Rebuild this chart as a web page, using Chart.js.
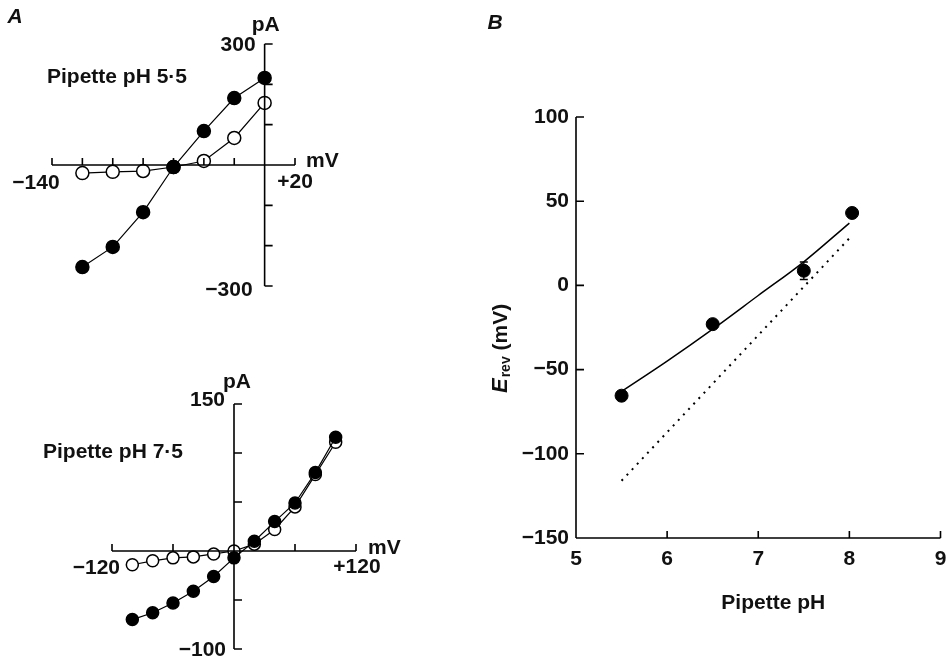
<!DOCTYPE html>
<html lang="en">
<head>
<meta charset="UTF-8">
<title>Pipette pH and reversal potential</title>
<style>
  body { margin: 0; background: #fff; }
  #wrap { position: relative; width: 948px; height: 658px; }
  #wrap canvas { position: absolute; left: 0; top: 0; }
</style>
</head>
<body>
<div id="wrap">
  <canvas id="ivTop" width="948" height="658"></canvas>
  <canvas id="ivBottom" width="948" height="658"></canvas>
  <canvas id="erevChart" width="948" height="658"></canvas>
</div>
<script src="https://cdn.jsdelivr.net/npm/chart.js"></script>
<script>
// ---- data ----
// A, pipette pH 5.5 (mV / pA)
const topVoltage = [-120, -100, -80, -60, -40, -20, 0];
const topFilled = [-253, -203, -117, -5, 84, 166, 216];
const topOpen = [-20, -17, -15, -5, 10, 67, 154];
const topXTicks = [-140, -120, -100, -80, -60, -40, -20, 0, 20];
const topYTicks = [-300, -200, -100, 0, 100, 200, 300];

// A, pipette pH 7.5
const botVoltage = [-100, -80, -60, -40, -20, 0, 20, 40, 60, 80, 100];
const botFilled = [-70, -63, -53, -41, -26, -7, 10, 30, 49, 80, 116];
const botOpen = [-14, -10, -7, -6, -3, 0, 7, 22, 45, 78, 111];
const botXTicks = [-120, -60, 0, 60, 120];
const botYTicks = [-100, -50, 0, 50, 100, 150];

// B, reversal potential vs pipette pH
const pipettePH = [5.5, 6.5, 7.5, 8.03];
const erev = [-65.5, -23, 8.7, 43];
const erevErr = [0, 0, 5.2, 0];
const fitPH = [5.5, 6, 6.5, 7, 7.5, 8];
const fitErev = [-63, -45, -26, -6, 14, 37];
const nernstPH = [5.5, 8.0];
const nernstErev = [-116, 28];
const bXTicks = [5, 6, 7, 8, 9];
const bYTicks = [-150, -100, -50, 0, 50, 100];

const FAM = '"Liberation Sans", Arial, sans-serif';
const BOLD = 'bold 21px ' + FAM;
const ITAL = 'italic bold 21px ' + FAM;
const MINUS = '\u2212';
const fmt = v => (v < 0 ? MINUS + Math.abs(v) : String(v));
const pts = (xs, ys) => xs.map((x, i) => ({x: x, y: ys[i]}));

// axes drawn at data positions, ticks pointing inwards
function axesFrame(cfg) {
  return {
    id: 'axesFrame',
    afterDraw(chart) {
      const ctx = chart.ctx;
      const px = v => chart.scales.x.getPixelForValue(v);
      const py = v => chart.scales.y.getPixelForValue(v);
      ctx.save();
      ctx.strokeStyle = '#000';
      ctx.lineWidth = 1.6;
      ctx.beginPath();
      const xa = cfg.xAxis, ay = py(xa.at);
      ctx.moveTo(px(xa.from), ay);
      ctx.lineTo(px(xa.to), ay);
      xa.ticks.forEach(t => { ctx.moveTo(px(t), ay); ctx.lineTo(px(t), ay - 7); });
      const ya = cfg.yAxis, ax = px(ya.at);
      ctx.moveTo(ax, py(ya.from));
      ctx.lineTo(ax, py(ya.to));
      ya.ticks.forEach(t => { ctx.moveTo(ax, py(t)); ctx.lineTo(ax + 8, py(t)); });
      ctx.stroke();

      // error bars
      (cfg.errors || []).forEach(e => {
        e.err.forEach((d, i) => {
          if (!d) return;
          const x = px(e.x[i]);
          ctx.beginPath();
          ctx.lineWidth = 1.3;
          ctx.moveTo(x, py(e.y[i] - d)); ctx.lineTo(x, py(e.y[i] + d));
          ctx.moveTo(x - 4, py(e.y[i] - d)); ctx.lineTo(x + 4, py(e.y[i] - d));
          ctx.moveTo(x - 4, py(e.y[i] + d)); ctx.lineTo(x + 4, py(e.y[i] + d));
          ctx.stroke();
        });
      });

      ctx.fillStyle = '#111';
      ctx.textBaseline = 'middle';
      cfg.labels.forEach(l => {
        ctx.font = l.font || BOLD;
        ctx.textAlign = l.align || 'center';
        ctx.fillText(l.text, px(l.x) + (l.dx || 0), py(l.y) + (l.dy || 0));
      });
      if (cfg.after) cfg.after(ctx, px, py);
      ctx.restore();
    }
  };
}

function makeChart(id, pad, xr, yr, datasets, frame) {
  return new Chart(document.getElementById(id), {
    type: 'scatter',
    data: { datasets: datasets },
    options: {
      responsive: false,
      animation: false,
      devicePixelRatio: 1,
      layout: { padding: pad },
      scales: {
        x: { type: 'linear', min: xr[0], max: xr[1], display: false },
        y: { type: 'linear', min: yr[0], max: yr[1], display: false }
      },
      plugins: { legend: { display: false }, tooltip: { enabled: false } }
    },
    plugins: [axesFrame(frame)]
  });
}

function ivSet(xs, ys, filled, r) {
  return {
    data: pts(xs, ys),
    showLine: true,
    borderColor: '#000',
    borderWidth: 1.2,
    pointRadius: r,
    pointBackgroundColor: filled ? '#000' : '#fff',
    pointBorderColor: '#000',
    pointBorderWidth: 1.5,
    clip: false
  };
}

// ---- A, pH 5.5 ----
makeChart('ivTop', {left: 52, right: 653, top: 44, bottom: 372}, [-140, 20], [-300, 300],
  [ivSet(topVoltage, topFilled, true, 6.5), ivSet(topVoltage, topOpen, false, 6.5)],
  {
    xAxis: {at: 0, from: -140, to: 20, ticks: topXTicks},
    yAxis: {at: 0, from: -300, to: 300, ticks: topYTicks},
    labels: [
      {text: 'A', x: -140, y: 300, dx: -37, dy: -27, font: ITAL},
      {text: 'pA', x: 0, y: 300, dx: 1, dy: -19},
      {text: '300', x: 0, y: 300, dx: -9, dy: 1, align: 'right'},
      {text: fmt(-300), x: 0, y: -300, dx: -12, dy: 4, align: 'right'},
      {text: fmt(-140), x: -140, y: 0, dx: -16, dy: 18},
      {text: '+20', x: 20, y: 0, dx: 0, dy: 17},
      {text: 'mV', x: 20, y: 0, dx: 11, dy: -4, align: 'left'},
      {text: 'Pipette pH 5\u00b75', x: -140, y: 300, dx: -5, dy: 33, align: 'left'}
    ]
  });

// ---- A, pH 7.5 ----
makeChart('ivBottom', {left: 112, right: 592, top: 404, bottom: 9}, [-120, 120], [-100, 150],
  [ivSet(botVoltage, botFilled, true, 6), ivSet(botVoltage, botOpen, false, 6)],
  {
    xAxis: {at: 0, from: -120, to: 120, ticks: botXTicks},
    yAxis: {at: 0, from: -100, to: 150, ticks: botYTicks},
    labels: [
      {text: 'pA', x: 0, y: 150, dx: 3, dy: -22},
      {text: '150', x: 0, y: 150, dx: -9, dy: -4, align: 'right'},
      {text: fmt(-100), x: 0, y: -100, dx: -8, dy: 1, align: 'right'},
      {text: fmt(-120), x: -120, y: 0, dx: 8, dy: 17, align: 'right'},
      {text: '+120', x: 120, y: 0, dx: 1, dy: 16},
      {text: 'mV', x: 120, y: 0, dx: 12, dy: -3, align: 'left'},
      {text: 'Pipette pH 7\u00b75', x: -120, y: 150, dx: -69, dy: 48, align: 'left'}
    ]
  });

// ---- B ----
const bLabels = [
  {text: 'B', x: 5, y: 100, dx: -81, dy: -94, font: ITAL},
  {text: 'Pipette pH', x: 7, y: -150, dx: 15, dy: 65}
];
bYTicks.forEach(v => bLabels.push({text: fmt(v), x: 5, y: v, dx: -7, dy: 0, align: 'right'}));
bXTicks.forEach(v => bLabels.push({text: String(v), x: v, y: -150, dx: 0, dy: 21}));

makeChart('erevChart', {left: 576, right: 5, top: 117, bottom: 120}, [5, 9], [-150, 100],
  [
    {data: pts(pipettePH, erev), pointRadius: 6.5, pointBackgroundColor: '#000',
     pointBorderColor: '#000', showLine: false, clip: false},
    {data: pts(fitPH, fitErev), showLine: true, borderColor: '#000', borderWidth: 1.5,
     pointRadius: 0, cubicInterpolationMode: 'monotone'},
    {data: pts(nernstPH, nernstErev), showLine: true, borderColor: '#000', borderWidth: 2,
     borderDash: [2, 5.5], pointRadius: 0}
  ],
  {
    xAxis: {at: -150, from: 5, to: 9, ticks: bXTicks},
    yAxis: {at: 5, from: -150, to: 100, ticks: bYTicks},
    errors: [{x: pipettePH, y: erev, err: erevErr}],
    labels: bLabels,
    after(ctx, px, py) {
      // rotated axis title: E_rev (mV)
      ctx.translate(px(5) - 69, py(0) + 63);
      ctx.rotate(-Math.PI / 2);
      ctx.textAlign = 'left';
      ctx.textBaseline = 'alphabetic';
      const eFont = 'italic bold 22px ' + FAM, sFont = 'bold 14px ' + FAM;
      ctx.font = eFont; const wE = ctx.measureText('E').width;
      ctx.font = sFont; const wS = ctx.measureText('rev').width;
      ctx.font = BOLD; const wU = ctx.measureText(' (mV)').width;
      let x = -(wE + wS + 1 + wU) / 2;
      ctx.font = eFont; ctx.fillText('E', x, 0); x += wE + 1;
      ctx.font = sFont; ctx.fillText('rev', x, 3); x += wS;
      ctx.font = BOLD; ctx.fillText(' (mV)', x, 0);
    }
  });
</script>
</body>
</html>
